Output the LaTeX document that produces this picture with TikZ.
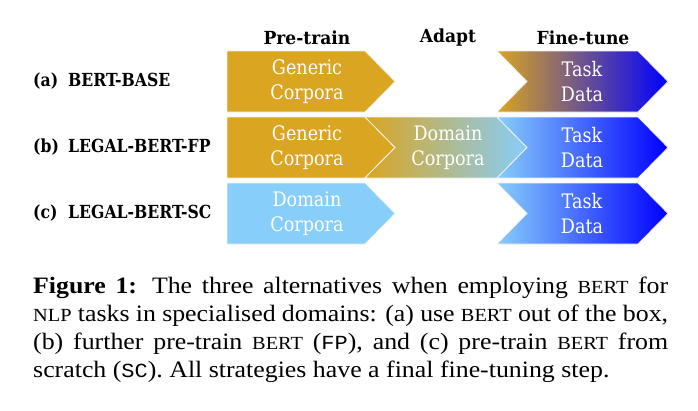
\documentclass[tikz,border=0pt]{standalone}
\usepackage{fontspec}
\usepackage{xcolor}
\usepackage{tikz}
\usetikzlibrary{positioning,calc}

\newfontfamily\slabfont[FakeStretch=0.88]{DejaVu Serif}
\newfontfamily\slabbold[FakeStretch=0.95]{DejaVu Serif Bold}
\newfontfamily\labelbold[FakeStretch=0.87]{DejaVu Serif Bold}
\newfontfamily\capfont[FakeStretch=1.1]{Liberation Serif}
\newfontfamily\capmono[FakeStretch=1.1]{Liberation Mono}
\newcommand{\capsc}[1]{{\fontsize{18.5}{18.5}\selectfont #1}}
\newcommand{\captt}[1]{{\capmono\fontsize{20}{20}\selectfont #1}}

\definecolor{pretrain}{HTML}{DAA520}
\definecolor{domain}{HTML}{87CEFA}
\definecolor{task}{HTML}{0000FF}

\tikzset{
  stage/.style={draw=gray!12, line width=0.8pt},
  stagetext/.style={text=white, align=center, inner sep=0pt,
    font=\slabfont\fontsize{20}{25}\selectfont},
  header/.style={font=\slabbold\fontsize{18}{18}\selectfont, inner sep=0pt},
  rowlabel/.style={font=\labelbold\fontsize{18}{18}\selectfont, anchor=west, inner sep=0pt},
  capline/.style={anchor=base west, inner sep=0pt, font=\capfont\fontsize{23.5}{28}\selectfont}
}

\begin{document}
\begin{tikzpicture}[x=1pt, y=-1pt]
    \useasboundingbox (0,0) rectangle (698,410);

    % Stage headers
    \node[header] (h-pre) at (307,38) {Pre-train};
    \node[header] (h-adapt) at (448,38) {Adapt};
    \node[header] (h-fine) at (583,38) {Fine-tune};

    % Row labels
    \node[rowlabel] (lab-a) at (33,81.5) {\makebox[35pt][l]{(a)}BERT-BASE};
    \node[rowlabel] (lab-b) at (33,147.5) {\makebox[35pt][l]{(b)}LEGAL-BERT-FP};
    \node[rowlabel] (lab-c) at (33,213.5) {\makebox[35pt][l]{(c)}LEGAL-BERT-SC};

    % (a) BERT-BASE
    \draw[stage, fill=pretrain] (227,51) -- (365,51) -- (395,81.5) -- (365,112) -- (227,112) -- cycle;
    \node[stagetext] (a-pre) at (307,81.5) {Generic\\Corpora};
    \draw[stage, left color=pretrain, right color=task] (497,51) -- (638,51) -- (668,81.5) -- (638,112) -- (497,112) -- (527,81.5) -- cycle;
    \node[stagetext] (a-fine) at (582,81.5) {Task\\Data};

    % (b) LEGAL-BERT-FP
    \draw[stage, fill=pretrain] (227,117) -- (365,117) -- (395,147.5) -- (365,178) -- (227,178) -- cycle;
    \node[stagetext] (b-pre) at (307,147.5) {Generic\\Corpora};
    \draw[stage, left color=pretrain, middle color=domain, right color=domain] (365,117) -- (497,117) -- (527,147.5) -- (497,178) -- (365,178) -- (395,147.5) -- cycle;
    \node[stagetext] (b-adapt) at (448,147.5) {Domain\\Corpora};
    \draw[stage, left color=domain, right color=task] (497,117) -- (638,117) -- (668,147.5) -- (638,178) -- (497,178) -- (527,147.5) -- cycle;
    \node[stagetext] (b-fine) at (582,147.5) {Task\\Data};

    % (c) LEGAL-BERT-SC
    \draw[stage, fill=domain] (227,183) -- (365,183) -- (395,213.5) -- (365,244) -- (227,244) -- cycle;
    \node[stagetext] (c-pre) at (307,213.5) {Domain\\Corpora};
    \draw[stage, left color=domain, right color=task] (497,183) -- (638,183) -- (668,213.5) -- (638,244) -- (497,244) -- (527,213.5) -- cycle;
    \node[stagetext] (c-fine) at (582,213.5) {Task\\Data};

    % Caption
    \node[capline] (cap-1) at (33,293) {\makebox[635pt][s]{\textbf{Figure 1:} The three alternatives when employing \capsc{BERT} for}};
    \node[capline] (cap-2) at (33,321) {\makebox[635pt][s]{\capsc{NLP} tasks in specialised domains: (a) use \capsc{BERT} out of the box,}};
    \node[capline] (cap-3) at (33,349) {\makebox[635pt][s]{(b) further pre-train \capsc{BERT} (\captt{FP}), and (c) pre-train \capsc{BERT} from}};
    \node[capline] (cap-4) at (33,377) {scratch (\captt{SC}). All strategies have a final fine-tuning step.};
\end{tikzpicture}
\end{document}
